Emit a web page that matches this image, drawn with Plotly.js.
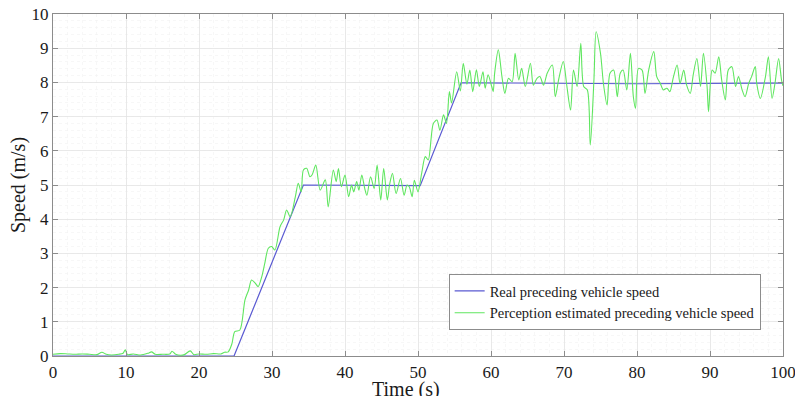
<!DOCTYPE html>
<html>
<head>
<meta charset="utf-8">
<script src="https://cdn.plot.ly/plotly-3.0.1.min.js"></script>
<style>html,body{margin:0;padding:0;background:#fff;}#chart{width:795px;height:396px;}</style>
</head>
<body>
<div id="chart"></div>
<script>
// Real preceding vehicle speed (m/s)
const realTime = [0, 24.8, 34.3, 50.3, 55.9, 70, 80, 100];
const realSpeed = [0, 0, 5, 4.98, 7.99, 7.97, 7.96, 7.98];

// Perception estimated preceding vehicle speed (m/s)
const estTime = [0,1,2,3,4,5,6,6.7,7.3,8,9,9.6,9.9,10.2,11,12,13,13.5,14,15,16,16.3,16.8,17.5,18,18.8,19.3,20,21,22,23,23.5,24,
  24.5,24.9,25.6,26.3,26.8,27.2,27.7,28.1,28.6,29.0,29.5,29.95,30.4,31.1,31.6,32.0,32.5,33.2,33.6,34.0,34.3,34.75,35.2,35.5,36.0,36.6,37.3,37.7,38.4,38.8,39.1,39.5,40.0,40.5,40.9,41.2,41.6,41.9,42.3,42.7,43.0,43.5,44.0,44.4,44.9,45.3,45.8,46.1,46.5,47.0,47.6,48.1,48.5,48.8,49.2,49.5,50.0,
  50.5,51.0,51.4,52.1,52.6,53.0,53.5,53.9,54.3,54.6,55.3,55.8,56.2,56.7,57.1,57.5,58.0,58.4,58.9,59.2,59.6,60.1,60.3,60.5,61.0,61.5,61.9,62.4,62.9,63.3,63.8,64.2,64.7,65.4,65.8,66.3,66.7,67.2,67.7,68.4,68.8,69.3,69.9,70.4,70.9,71.3,71.8,72.3,72.7,73.2,73.6,74.1,74.4,75.0,75.4,75.9,76.3,76.8,77.3,77.7,78.1,78.6,79.1,79.5,79.8,80.2,80.7,81.1,81.6,82.3,82.7,83.2,83.6,84.1,84.5,85.0,85.5,85.9,86.4,86.8,87.3,87.7,88.2,88.7,89.1,89.6,89.8,90.3,90.7,91.2,91.6,92.1,92.5,93.0,93.5,93.9,94.4,94.8,95.3,95.7,96.2,96.4,96.9,97.6,98.0,98.5,98.9,99.4,99.8,100];
const estSpeed = [0.05,0.07,0.06,0.05,0.06,0.05,0.04,0.11,0.05,0.03,0.05,0.08,0.18,0.04,0.06,0.03,0.08,0.12,0.05,0.05,0.06,0.14,0.05,0.02,0.04,0.15,0.04,0.06,0.05,0.07,0.06,0.11,0.12,
  0.35,0.71,0.76,1.64,1.93,2.22,2.13,2.03,2.32,2.7,3.15,3.2,3.1,3.78,3.98,4.27,4.07,4.66,5.05,4.8,5.44,5.49,5.24,5.3,5.58,4.85,5.15,4.36,5.44,5.1,5.48,4.95,5.29,4.66,5.0,4.8,5.1,4.85,5.29,4.9,4.7,5.24,4.9,5.58,4.56,5.48,4.56,5.0,5.34,4.75,5.19,4.7,5.0,4.95,4.66,5.14,4.8,
  5.34,5.83,5.73,6.8,6.9,6.6,7.05,6.8,7.73,7.4,8.31,7.75,8.56,7.95,8.36,7.73,8.37,7.88,8.31,7.83,8.22,7.88,7.73,8.27,8.95,8.17,7.68,8.12,8.02,8.85,8.07,8.41,7.88,8.56,7.92,8.12,8.17,7.92,8.27,8.51,7.58,8.12,8.61,7.88,7.19,8.36,7.88,9.14,7.88,7.78,6.17,8.07,9.48,8.85,7.97,7.34,8.27,8.36,7.58,8.27,8.36,7.78,8.85,7.58,7.24,8.41,8.36,7.68,8.36,8.9,8.17,7.97,7.78,7.83,7.73,8.17,8.51,7.97,8.36,7.92,7.68,8.22,8.70,7.88,8.85,7.88,7.14,8.36,8.27,8.75,8.07,7.49,8.36,8.46,7.88,8.17,7.78,7.58,7.97,8.17,8.46,7.97,7.53,8.17,8.75,7.53,7.97,8.70,8.07,7.9];

const xTicks = [0,10,20,30,40,50,60,70,80,90,100];
const yTicks = [0,1,2,3,4,5,6,7,8,9,10];

const serif = 'Liberation Serif, Times New Roman, serif';

const traces = [
  {x: realTime, y: realSpeed, type: 'scatter', mode: 'lines', name: 'Real preceding vehicle speed',
   line: {color: '#5a5ad2', width: 1.2}},
  {x: estTime, y: estSpeed, type: 'scatter', mode: 'lines', name: 'Perception estimated preceding vehicle speed',
   line: {color: '#5fe65f', width: 1.1, shape: 'spline', smoothing: 0.8}}
];

const axisCommon = {
  showline: true, linecolor: '#8c8c8c', linewidth: 1.2, mirror: 'ticks',
  ticks: 'inside', ticklen: 5, tickcolor: '#8c8c8c', tickwidth: 1,
  showgrid: true, gridcolor: '#e4e4e4', gridwidth: 0.8,
  zeroline: false, ticklabeloverflow: 'allow',
  tickfont: {family: serif, size: 17, color: '#1a1a1a'}
};

const layout = {
  width: 795, height: 396,
  margin: {l: 53, r: 12, t: 14, b: 40},
  paper_bgcolor: '#fff', plot_bgcolor: '#fff',
  showlegend: true,
  xaxis: Object.assign({}, axisCommon, {
    range: [0, 100], tickvals: xTicks, ticktext: xTicks.map(String),
    minor: {dtick: 2, showgrid: true, gridcolor: '#f2f2f2', gridwidth: 0.6, griddash: 'dot'}
  }),
  yaxis: Object.assign({}, axisCommon, {
    range: [0, 10], tickvals: yTicks, ticktext: yTicks.map(String),
    minor: {dtick: 0.2, showgrid: true, gridcolor: '#f2f2f2', gridwidth: 0.6, griddash: 'dot'},
    title: {text: 'Speed (m/s)', font: {family: serif, size: 20, color: '#1a1a1a'}, standoff: 0}
  }),
  annotations: [{
    text: 'Time (s)', xref: 'paper', yref: 'paper', x: 0.483, y: 0,
    xanchor: 'center', yanchor: 'top', yshift: -20, showarrow: false,
    font: {family: serif, size: 20, color: '#1a1a1a'}
  }],
  legend: {
    x: 0.542, y: 0.24, xanchor: 'left', yanchor: 'top',
    bgcolor: '#fff', bordercolor: '#8c8c8c', borderwidth: 1,
    font: {family: serif, size: 14.5, color: '#1a1a1a'},
    tracegroupgap: 0, itemwidth: 30
  }
};

Plotly.newPlot('chart', traces, layout, {displayModeBar: false, staticPlot: true});
</script>
</body>
</html>
